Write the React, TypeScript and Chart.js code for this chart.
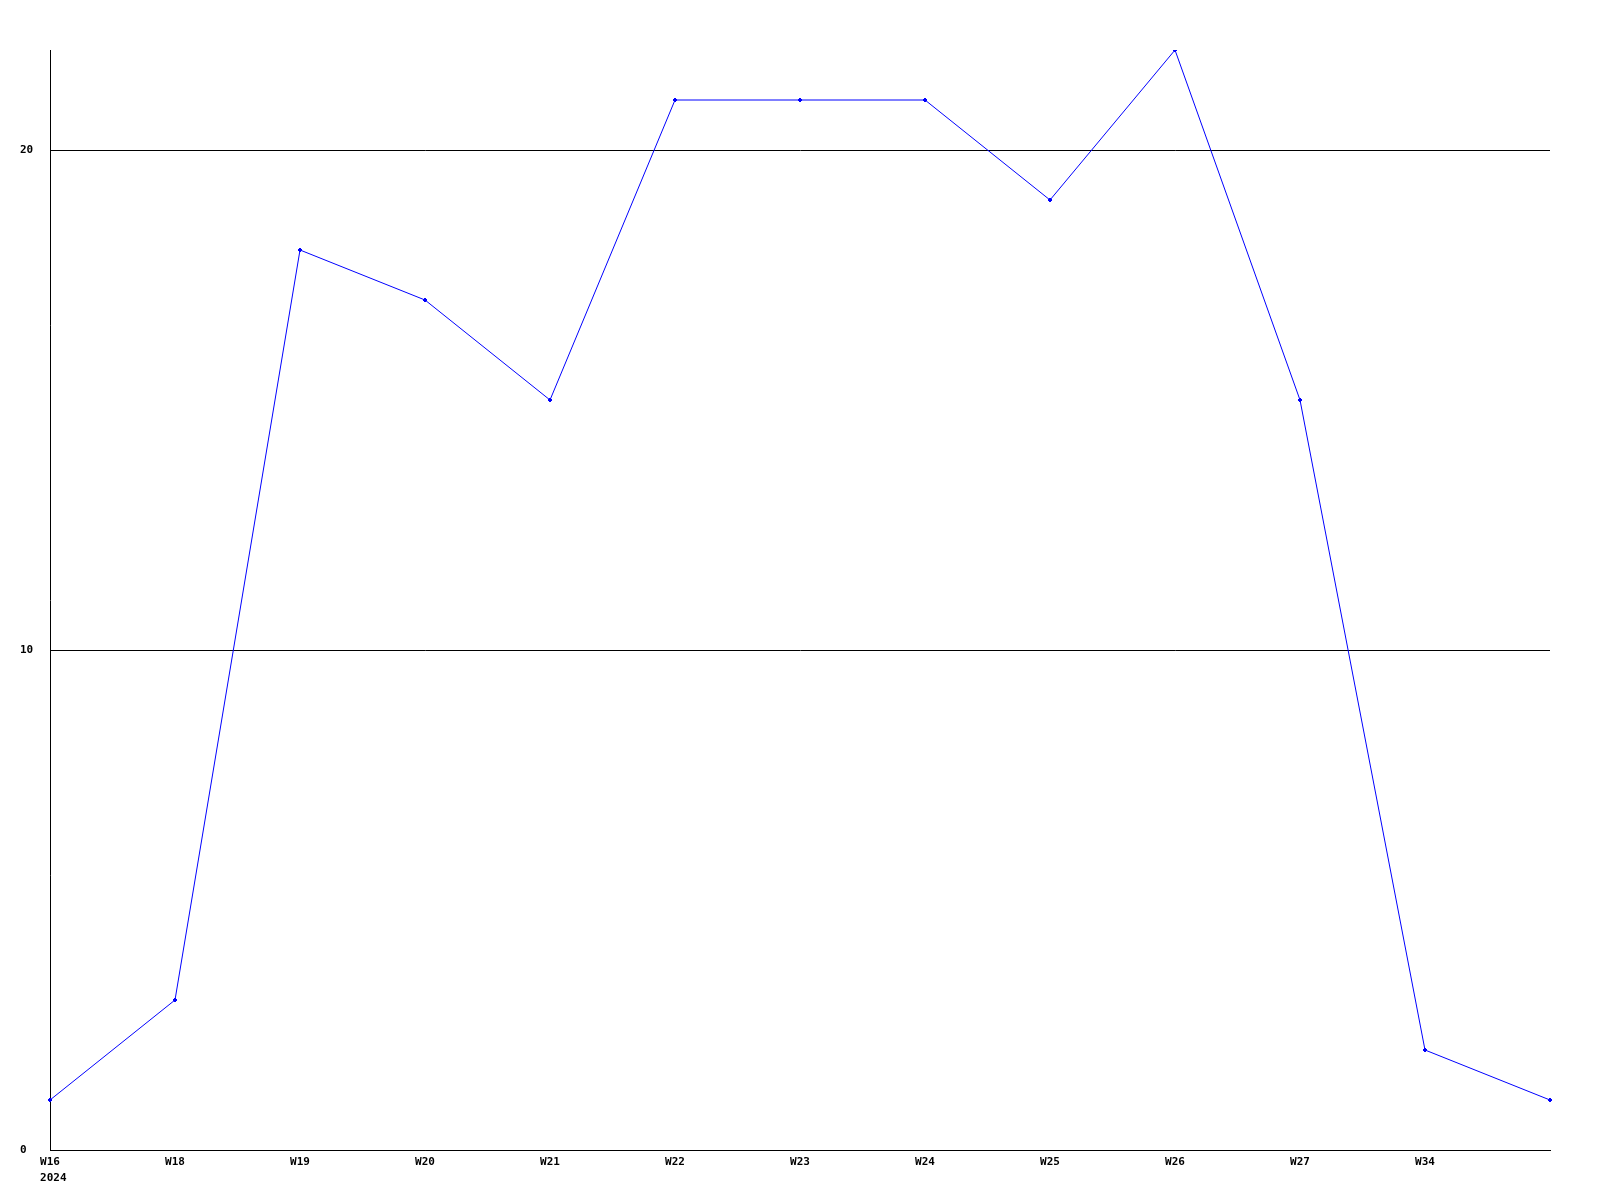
import React, { useEffect, useRef } from "react";
import { Chart, registerables } from "chart.js";

Chart.register(...registerables);

const weekLabels: string[] = [
  "W16", "W18", "W19", "W20", "W21", "W22", "W23", "W24", "W25", "W26", "W27", "W34", "",
];
const yearLabel = "2024";
const seriesValues: number[] = [1, 3, 18, 17, 15, 21, 21, 21, 19, 22, 15, 2, 1];
const yTickValues: number[] = [0, 10, 20];

const FONT = { family: "'DejaVu Sans Mono', monospace", size: 11, weight: "bold" as const };

const yearPlugin = {
  id: "yearLabel",
  afterDraw(chart: any) {
    const xs = chart.scales.x;
    const ctx = chart.ctx;
    ctx.save();
    ctx.font = `bold ${FONT.size}px ${FONT.family}`;
    ctx.fillStyle = "#000000";
    ctx.textAlign = "left";
    ctx.textBaseline = "middle";
    const x0 = xs.getPixelForTick(0);
    const w = ctx.measureText(weekLabels[0]).width;
    ctx.fillText(yearLabel, x0 - w / 2, xs.top + 6 + 7 + 15);
    ctx.restore();
  },
};

export default function App() {
  const ref = useRef<HTMLCanvasElement>(null);
  useEffect(() => {
    if (!ref.current) return;
    const chart = new Chart(ref.current, {
      type: "line",
      data: {
        labels: weekLabels,
        datasets: [
          {
            data: seriesValues,
            borderColor: "#0000ff",
            backgroundColor: "#0000ff",
            borderWidth: 1,
            pointStyle: "rectRot",
            pointRadius: 2,
            pointBorderWidth: 1,
            tension: 0,
            fill: false,
          },
        ],
      },
      options: {
        responsive: false,
        animation: false,
        devicePixelRatio: 1,
        layout: { padding: { left: 20, right: 50, top: 50, bottom: 0 } },
        plugins: { legend: { display: false }, tooltip: { enabled: false } },
        scales: {
          x: {
            offset: false,
            grid: { display: false, drawTicks: false },
            border: { display: true, color: "#000000", width: 1 },
            ticks: {
              color: "#000000",
              font: FONT,
              autoSkip: false,
              maxRotation: 0,
              minRotation: 0,
              padding: 6,
            },
            afterFit: (s: any) => {
              s.height = 50;
            },
          },
          y: {
            min: 0,
            max: 22,
            afterBuildTicks: (s: any) => {
              s.ticks = yTickValues.map((v) => ({ value: v }));
            },
            grid: { color: "#000000", lineWidth: 1, drawTicks: false },
            border: { display: true, color: "#000000", width: 1 },
            ticks: {
              color: "#000000",
              font: FONT,
              crossAlign: "far",
              padding: 0,
              includeBounds: false,
            },
            afterFit: (s: any) => {
              s.width = 30;
            },
          },
        },
      },
      plugins: [yearPlugin],
    });
    return () => chart.destroy();
  }, []);
  return (
    <div style={{ position: "fixed", left: 0, top: 0, width: 1600, height: 1200, background: "#fff" }}>
      <canvas ref={ref} width={1600} height={1200} />
    </div>
  );
}
